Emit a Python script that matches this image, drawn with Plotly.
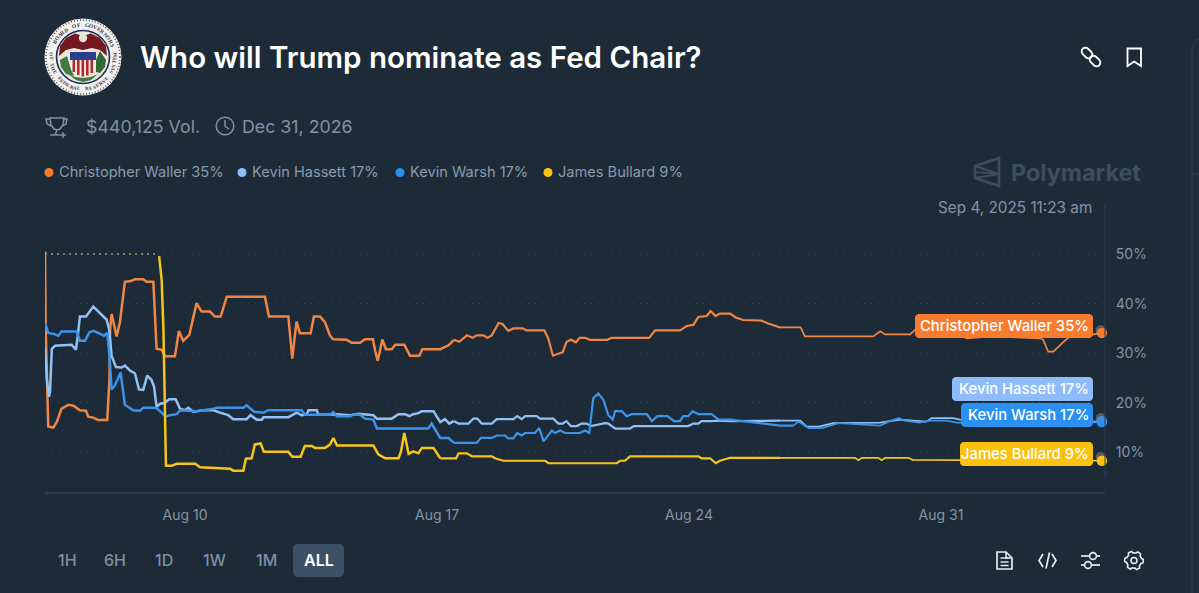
import math
import pandas as pd
import plotly.graph_objects as go

# day = day of August 2025 with fraction (32 = Sep 1), pct = chance in %
waller_day = [6.11, 6.13, 6.20, 6.34, 6.44, 6.57, 6.76, 6.90, 7.08, 7.25, 7.31, 7.45, 7.59, 7.84, 7.90, 7.92, 7.96, 8.03, 8.10, 8.19,
              8.33, 8.47, 8.61, 8.84, 8.93, 9.12, 9.21, 9.35, 9.44, 9.72, 9.83, 9.95, 10.12, 10.32, 10.46, 10.69, 10.83, 10.99, 11.16, 12.22,
              12.33, 12.87, 12.92, 12.98, 13.04, 13.10, 13.19, 13.49, 13.58, 13.75, 13.89, 14.03, 14.12, 14.49, 14.63, 14.86, 15.00, 15.22, 15.28, 15.35,
              15.42, 15.48, 15.58, 15.74, 15.84, 16.09, 16.25, 16.51, 16.59, 17.09, 17.32, 17.47, 17.62, 17.83, 17.99, 18.10, 18.29, 18.40, 18.52, 18.71,
              18.82, 18.98, 19.12, 19.38, 19.49, 19.98, 20.09, 20.22, 20.42, 20.49, 20.60, 20.72, 20.86, 20.96, 21.11, 21.25, 21.73, 21.85, 22.89, 23.06,
              23.75, 23.94, 24.12, 24.26, 24.49, 24.60, 24.74, 24.86, 25.14, 25.30, 25.50, 26.00, 26.20, 26.53, 27.10, 27.22, 29.12, 29.31, 29.45, 30.14,
              30.28, 30.60, 31.00, 31.50, 31.72, 32.22, 32.69, 33.75, 33.84, 33.98, 34.12, 34.45, 34.59, 34.91, 35.47]
waller_pct = [50.5, 34.9, 15.2, 15.0, 16.2, 18.8, 19.6, 19.4, 18.5, 18.4, 17.2, 17.0, 16.5, 16.5, 24.8, 34.9, 37.9, 35.6, 33.4, 36.2,
              44.4, 44.5, 44.9, 44.9, 44.4, 44.4, 30.9, 30.7, 29.4, 29.4, 34.5, 32.5, 33.7, 40.1, 38.4, 38.4, 37.4, 37.4, 41.4, 41.4,
              37.4, 37.4, 33.5, 28.9, 32.9, 36.4, 34.0, 34.0, 37.4, 37.4, 36.2, 33.5, 32.8, 32.7, 32.1, 32.1, 32.8, 32.8, 30.6, 28.5,
              30.6, 32.8, 30.8, 30.8, 31.7, 31.7, 29.5, 29.5, 30.8, 30.8, 31.6, 32.7, 32.3, 33.6, 33.1, 33.6, 33.6, 33.1, 33.6, 36.1,
              35.9, 34.5, 35.0, 35.0, 34.6, 34.6, 33.0, 29.5, 30.0, 30.2, 32.3, 32.7, 32.2, 33.1, 33.1, 32.7, 32.7, 33.1, 33.1, 34.6,
              34.6, 35.5, 35.7, 37.3, 37.5, 38.5, 37.5, 38.0, 38.0, 37.2, 36.7, 36.6, 36.0, 35.2, 35.2, 33.4, 33.4, 34.4, 33.8, 33.8,
              34.7, 34.7, 34.4, 33.6, 33.0, 33.3, 33.3, 33.0, 32.7, 30.3, 30.3, 32.6, 33.4, 33.4, 34.1]

hassett_day = [6.11, 6.16, 6.22, 6.25, 6.30, 6.39, 6.85, 6.97, 7.02, 7.08, 7.25, 7.45, 7.82, 7.89, 7.96, 8.08, 8.24, 8.33, 8.47, 8.61,
               8.72, 8.84, 8.95, 9.07, 9.14, 9.21, 9.31, 9.44, 9.56, 9.74, 9.86, 10.00, 10.09, 10.23, 10.51, 10.79, 10.97, 11.20, 11.34, 11.71,
               11.82, 11.99, 12.13, 12.18, 12.87, 13.10, 13.24, 13.38, 13.43, 13.66, 13.70, 14.03, 14.20, 14.59, 14.82, 15.23, 15.33, 15.74, 15.93, 16.11,
               16.23, 16.34, 16.48, 16.58, 16.90, 17.09, 17.22, 17.34, 17.46, 17.60, 17.87, 18.01, 18.12, 18.24, 18.52, 18.66, 19.12, 19.23, 19.35, 19.45,
               19.77, 19.86, 20.23, 20.37, 20.49, 20.59, 20.72, 20.88, 21.02, 21.16, 21.27, 21.67, 21.76, 21.95, 22.36, 22.47, 23.98, 24.12, 24.26, 24.35,
               24.63, 24.82, 25.14, 26.53, 27.09, 27.27, 27.60, 28.01, 29.31, 29.86, 30.60, 30.74, 31.34, 31.53, 32.50, 33.50, 34.50, 35.47]
hassett_pct = [31.2, 24.8, 21.2, 22.2, 30.9, 31.5, 31.7, 30.7, 33.5, 37.4, 37.4, 39.4, 36.8, 34.9, 29.5, 27.2, 27.1, 27.5, 26.5, 25.9,
               22.7, 22.6, 25.5, 24.6, 23.2, 19.2, 19.8, 20.0, 20.7, 20.7, 18.8, 18.5, 19.0, 18.2, 18.5, 18.5, 18.0, 17.5, 16.7, 16.7,
               17.5, 16.6, 16.6, 17.1, 17.1, 18.0, 17.5, 17.6, 18.5, 18.5, 17.6, 17.6, 17.7, 17.5, 17.8, 17.5, 16.8, 16.8, 17.7, 17.7,
               17.3, 17.7, 17.9, 18.3, 18.3, 16.1, 16.7, 15.8, 16.3, 15.8, 15.8, 16.8, 16.8, 15.8, 15.8, 16.7, 16.7, 17.3, 16.7, 17.3,
               17.3, 16.8, 16.8, 15.8, 15.8, 16.3, 15.3, 15.3, 15.8, 15.8, 15.3, 15.9, 15.8, 14.8, 14.8, 15.3, 15.3, 15.8, 15.8, 16.3,
               16.3, 16.4, 16.3, 16.4, 16.4, 15.2, 15.2, 15.9, 16.0, 16.6, 16.2, 16.9, 16.9, 16.6, 16.4, 16.2, 16.2, 16.2]

warsh_day = [6.11, 6.20, 6.36, 6.48, 6.57, 6.99, 7.08, 7.22, 7.34, 7.45, 7.59, 7.75, 7.84, 7.90, 7.96, 8.05, 8.21, 8.27, 8.33, 8.56,
             8.75, 8.84, 9.17, 9.26, 9.47, 9.58, 9.77, 9.86, 10.32, 10.79, 10.88, 11.62, 11.71, 11.92, 12.18, 12.31, 13.24, 13.33, 14.03, 14.12,
             14.22, 14.59, 14.68, 14.86, 15.00, 15.23, 15.33, 16.76, 16.85, 17.09, 17.32, 17.47, 18.10, 18.22, 18.52, 18.66, 18.89, 18.98, 19.12, 19.23,
             19.35, 19.45, 19.72, 19.84, 19.96, 20.19, 20.28, 20.42, 20.56, 20.97, 21.11, 21.23, 21.34, 21.48, 21.62, 21.76, 21.88, 21.95, 22.13, 22.27,
             22.41, 22.83, 22.97, 23.12, 23.40, 23.58, 23.75, 23.84, 23.98, 24.10, 24.26, 24.63, 24.82, 25.14, 26.53, 26.90, 27.04, 27.32, 27.70, 28.15,
             28.75, 29.31, 29.54, 29.82, 30.00, 30.40, 30.70, 31.16, 31.44, 33.00, 34.40, 34.59, 34.80, 35.47]
warsh_pct = [36.1, 34.1, 33.9, 33.5, 34.4, 34.4, 32.5, 32.5, 34.2, 34.5, 34.1, 33.5, 34.1, 29.5, 22.7, 23.5, 26.1, 22.2, 19.6, 18.5,
             18.4, 19.0, 19.0, 18.6, 17.2, 17.5, 17.7, 18.5, 18.3, 18.8, 19.0, 19.0, 19.5, 18.2, 18.0, 18.5, 18.5, 17.6, 17.6, 18.1,
             17.3, 17.3, 17.7, 17.6, 16.8, 16.6, 14.8, 14.8, 15.8, 12.9, 12.9, 11.9, 11.9, 12.9, 12.9, 13.4, 13.4, 12.8, 12.8, 13.9,
             13.4, 13.9, 13.9, 14.9, 12.2, 14.4, 13.9, 14.4, 13.9, 13.9, 14.4, 13.9, 20.9, 21.9, 20.6, 17.5, 16.6, 18.3, 18.3, 17.3,
             17.7, 17.7, 16.3, 17.3, 17.3, 16.3, 16.3, 17.3, 17.3, 18.3, 17.7, 17.7, 16.6, 16.6, 15.4, 15.4, 16.2, 14.9, 14.9, 15.9,
             15.6, 15.4, 16.2, 16.9, 16.4, 16.0, 16.4, 16.4, 16.0, 16.0, 16.0, 15.2, 16.0, 16.1]

bullard_day = [9.28, 9.35, 9.40, 9.44, 9.47, 9.63, 9.77, 10.28, 10.42, 11.25, 11.34, 11.62, 11.69, 11.85, 11.94, 12.10, 12.19, 12.87, 12.98, 13.21,
               13.33, 13.52, 13.61, 13.89, 14.03, 14.12, 14.22, 15.23, 15.37, 15.56, 15.93, 16.00, 16.09, 16.14, 16.21, 16.34, 16.48, 16.58, 16.90, 17.09,
               17.53, 17.60, 17.83, 17.97, 18.52, 18.61, 18.84, 20.00, 20.10, 21.99, 22.09, 22.22, 22.36, 24.26, 24.35, 24.59, 24.74, 24.86, 25.14, 26.53,
               28.61, 28.71, 28.80, 29.26, 29.35, 29.45, 30.09, 30.21, 35.47]
bullard_pct = [49.6, 44.9, 34.9, 14.8, 7.3, 7.3, 7.7, 7.7, 7.0, 6.7, 6.3, 6.3, 8.7, 8.8, 11.6, 11.8, 10.1, 10.1, 9.1, 9.1,
               11.3, 11.3, 10.9, 10.9, 11.6, 12.9, 11.4, 11.4, 9.6, 8.8, 8.8, 10.2, 13.9, 12.2, 9.7, 10.2, 9.8, 10.9, 10.9, 8.8,
               8.8, 9.8, 9.8, 9.2, 9.2, 8.8, 8.3, 8.3, 7.8, 7.8, 8.3, 8.3, 9.2, 9.2, 8.8, 8.8, 7.8, 8.3, 8.9, 8.9,
               8.9, 8.4, 8.9, 8.9, 8.4, 8.9, 8.9, 8.5, 8.3]

# flat dotted start of the Bullard series
flat_day = [6.11, 9.28]
flat_pct = [50.0, 50.0]

names = ["Christopher Waller", "Kevin Hassett", "Kevin Warsh", "James Bullard"]
latest = [35, 17, 17, 9]
line_colors = ["#f08544", "#93c1f5", "#3a94ea", "#f5c518"]
label_colors = ["#f97c2e", "#8ebcfb", "#2b90f0", "#fcc10d"]

x_ticks = [10, 17, 24, 31]
x_tick_labels = ["Aug 10", "Aug 17", "Aug 24", "Aug 31"]
y_ticks = [10, 20, 30, 40, 50]
y_tick_labels = ["10%", "20%", "30%", "40%", "50%"]

BG = "#1d2b39"
W, H = 1199, 593


def to_time(day):
    return pd.Timestamp("2025-08-01") + pd.to_timedelta(day - 1, unit="D")


def fx(x):
    return x / W


def fy(y):
    return 1 - y / H


def poly(points, closed=False, fill=None, line=None, width=1.5, dash=None):
    path = "M " + " L ".join(f"{fx(x):.5f},{fy(y):.5f}" for x, y in points)
    if closed:
        path += " Z"
    return dict(type="path", xref="paper", yref="paper", path=path,
                fillcolor=fill or "rgba(0,0,0,0)",
                line=dict(color=line or "rgba(0,0,0,0)", width=width if line else 0, dash=dash or "solid"))


def circle(cx, cy, r, fill=None, line=None, width=1.5, dash=None, layer="above"):
    return dict(type="circle", xref="paper", yref="paper", layer=layer,
                x0=fx(cx - r), x1=fx(cx + r), y0=fy(cy + r), y1=fy(cy - r),
                fillcolor=fill or "rgba(0,0,0,0)",
                line=dict(color=line or "rgba(0,0,0,0)", width=width if line else 0, dash=dash or "solid"))


def arc(cx, cy, r, a0, a1, n=8):
    return [(cx + r * math.cos(math.radians(a0 + (a1 - a0) * i / n)),
             cy + r * math.sin(math.radians(a0 + (a1 - a0) * i / n))) for i in range(n + 1)]


def round_rect(x0, y0, x1, y1, r, **kw):
    pts = arc(x0 + r, y0 + r, r, 180, 270) + arc(x1 - r, y0 + r, r, 270, 360) \
        + arc(x1 - r, y1 - r, r, 0, 90) + arc(x0 + r, y1 - r, r, 90, 180)
    return poly(pts, closed=True, **kw)


def stadium(cx, cy, length, thick, angle, **kw):
    r = thick / 2
    d = length / 2 - r
    ca, sa = math.cos(math.radians(angle)), math.sin(math.radians(angle))
    pts = arc(cx + d * ca, cy + d * sa, r, angle - 90, angle + 90) \
        + arc(cx - d * ca, cy - d * sa, r, angle + 90, angle + 270)
    return poly(pts, closed=True, **kw)


def text(x, y, s, size=14, color="#8494a5", anchor="left", weight=400, family="Inter", angle=0):
    return dict(xref="paper", yref="paper", x=fx(x), y=fy(y), text=s, showarrow=False,
                xanchor=anchor, yanchor="middle", textangle=angle,
                font=dict(size=size, color=color, family=family, weight=weight))


fig = go.Figure()

series = [(waller_day, waller_pct), (hassett_day, hassett_pct), (warsh_day, warsh_pct), (bullard_day, bullard_pct)]

fig.add_trace(go.Scatter(x=[to_time(d) for d in flat_day], y=flat_pct, mode="lines",
                         line=dict(color="#a3926b", width=1.6, dash="2px,4px"), showlegend=False))

# the line gets thinner towards the right in the picture
parts = [(0, 17.5, 2.5), (17.5, 27, 2.2), (27, 40, 1.7)]

for i, (days, pcts) in enumerate(series):
    for lo, hi, width in parts:
        keep = [k for k, d in enumerate(days) if lo <= d <= hi]
        if keep[0] > 0:
            keep = [keep[0] - 1] + keep
        fig.add_trace(go.Scatter(x=[to_time(days[k]) for k in keep], y=[pcts[k] for k in keep], mode="lines", name=names[i],
                                 line=dict(color=line_colors[i], width=width), showlegend=False))
    fig.add_trace(go.Scatter(x=[to_time(days[-1])], y=[pcts[-1]], mode="markers", showlegend=False,
                             marker=dict(size=10.5, color=label_colors[i]), cliponaxis=False))

shapes = []
notes = []

# grey halo sits a little up and left of each end dot
for hy in (330, 418, 457):
    shapes.append(circle(1100.7, hy, 5, fill="rgba(150,150,150,0.45)", layer="below"))

# right axis rule, panel edge
shapes.append(poly([(1105, 203), (1105, 478)], line="#2d3d4c", width=1))
shapes.append(poly(arc(1204, 50, 12, 180, 270), line="#2f4050", width=1))
shapes.append(poly([(1192, 50), (1192, 593)], line="#2f4050", width=1))
shapes.append(poly([(1192, 174), (1199, 174)], line="#2f4050", width=1))

# end labels
label_boxes = [(915, 314, 338), (952, 377, 401), (961, 403, 427), (960, 442, 466)]
for i, (x0, y0, y1) in enumerate(label_boxes):
    shapes.append(round_rect(x0, y0, 1093, y1, 4, fill=label_colors[i]))
    notes.append(text(1091, (y0 + y1) / 2, f"{names[i]} {latest[i]}%", size=14.8, color="#ffffff", anchor="right", weight=500))

# legend row
legend_x = [49, 242, 400, 548]
for i, x in enumerate(legend_x):
    shapes.append(circle(x, 172.5, 4.5, fill=label_colors[i]))
    notes.append(text(x + 8, 172, f"{names[i]} {latest[i]}%", size=14.6, color="#8a9aab"))

# header
notes.append(text(138, 57, "Who will Trump nominate as Fed Chair?", size=29.5, color="#ffffff", weight=600))
notes.append(text(84, 126, "$440,125 Vol.", size=17.8, color="#8091a3"))
notes.append(text(240, 126, "Dec 31, 2026", size=17.8, color="#8091a3"))
notes.append(text(1094, 207, "Sep 4, 2025 11:23 am", size=15.3, color="#8494a5", anchor="right"))
notes.append(text(1009, 172, "Polymarket", size=23.3, color="#3c4d5d", weight=700))

# polymarket mark
mark = "#3c4d5d"
shapes.append(poly([(975, 166), (999, 158), (999, 186), (975, 178)], closed=True, line=mark, width=2.6))
shapes.append(poly([(975, 166), (999, 174), (975, 178)], line=mark, width=2.2))
shapes.append(poly([(999, 174), (975, 172)], line=mark, width=2))

# trophy and clock
ic = "#8091a3"
shapes.append(poly([(50, 118), (64, 118), (63, 125), (60, 129), (57, 130), (54, 129), (51, 125)], closed=True, line=ic))
shapes.append(poly([(50, 119), (46, 119), (47, 124), (51, 126)], line=ic))
shapes.append(poly([(64, 119), (67, 119), (66, 124), (62, 126)], line=ic))
shapes.append(poly([(57, 130), (55, 135), (50, 135), (60, 135)], line=ic))
shapes.append(poly([(63, 132), (63, 138)], line=ic))
shapes.append(poly([(60, 135), (66, 135)], line=ic))
shapes.append(circle(225, 126, 8.8, line=ic))
shapes.append(poly([(225, 120), (225, 126), (229, 129)], line=ic))

# top right icons
shapes.append(stadium(1087, 53, 12, 7.5, 45, line="#ffffff", width=1.8))
shapes.append(stadium(1095, 61, 12, 7.5, 45, line="#ffffff", width=1.8))
shapes.append(poly([(1127.5, 48.5), (1141, 48.5), (1141, 66), (1134.2, 61.5), (1127.5, 66)], closed=True, line="#ffffff", width=1.8))

# range buttons
shapes.append(round_rect(293, 544, 344, 577, 5, fill="#3d5064"))
for label, x in zip(["1H", "6H", "1D", "1W", "1M"], [67, 115, 164, 214, 266]):
    notes.append(text(x, 560, label, size=16, color="#7e90a2", anchor="center", weight=500))
notes.append(text(318.5, 560, "ALL", size=16, color="#ffffff", anchor="center", weight=600))

# bottom right icons
wh = "#e8edf2"
shapes.append(poly([(997, 552), (1006, 552), (1012, 558), (1012, 569), (997, 569)], closed=True, line=wh, width=1.7))
shapes.append(poly([(1006, 552), (1006, 558), (1012, 558)], line=wh, width=1.5))
for y in (558, 562, 565.5):
    shapes.append(poly([(1000.5, y), (1008.5, y)], line=wh, width=1.4))
shapes.append(poly([(1043, 554), (1039, 560.5), (1043, 567)], line=wh, width=1.7))
shapes.append(poly([(1052, 554), (1056, 560.5), (1052, 567)], line=wh, width=1.7))
shapes.append(poly([(1049.5, 552.5), (1046, 568.5)], line=wh, width=1.7))
shapes.append(poly([(1081, 556), (1089, 556)], line=wh, width=1.7))
shapes.append(poly([(1097, 556), (1100, 556)], line=wh, width=1.7))
shapes.append(poly([(1081, 565), (1084, 565)], line=wh, width=1.7))
shapes.append(poly([(1092, 565), (1100, 565)], line=wh, width=1.7))
shapes.append(circle(1093, 556, 3.4, line=wh, width=1.6))
shapes.append(circle(1088, 565, 3.4, line=wh, width=1.6))
gear = []
for k in range(48):
    a = k / 48 * 360
    r = 9.3 if (k % 8) in (0, 1, 2, 7) else 7.6
    gear.append((1134 + r * math.cos(math.radians(a)), 560.5 + r * math.sin(math.radians(a))))
shapes.append(poly(gear, closed=True, line=wh, width=1.6))
shapes.append(circle(1134, 560.5, 3, line=wh, width=1.6))

# seal
cx, cy = 83, 57
shapes.append(circle(cx, cy, 38.5, fill="#f2f1ee"))
shapes.append(circle(cx, cy, 37, line="#55555a", width=1.6, dash="1px,2px"))
shapes.append(circle(cx, cy, 26.5, fill="#e9e7dc", line="#1e2a5a", width=1.6))
shapes.append(poly([(59, 56), (60, 46), (66, 38), (75, 33.5), (83, 36), (91, 33.5), (100, 38), (106, 46), (107, 56),
                    (100, 50), (92, 48), (83, 50), (74, 48), (66, 50)], closed=True, fill="#741821"))
shapes.append(circle(83, 38, 4.2, fill="#e6e2d5"))
shapes.append(poly([(60, 60), (67, 56), (70, 66), (74, 76), (66, 74), (61, 67)], closed=True, fill="#3f7a3c"))
shapes.append(poly([(106, 60), (100, 51), (96, 60), (96, 72), (100, 73), (105, 67)], closed=True, fill="#2f6a34"))
shapes.append(poly([(68, 74), (76, 80), (83, 82), (91, 80), (98, 74), (91, 77), (83, 78), (75, 77)], closed=True, fill="#3f7a3c"))
shapes.append(poly([(70, 52), (96, 52), (96, 60), (70, 60)], closed=True, fill="#2a3f8a"))
shapes.append(poly([(70, 60), (96, 60), (96, 66), (94, 72), (89, 75), (83, 77), (77, 75), (72, 72), (70, 66)], closed=True, fill="#f4efe6"))
for sx, top, bot in zip([72.5, 77, 81.5, 86, 90.5], [60, 60, 60, 60, 60], [72, 75, 76.5, 75.5, 73]):
    shapes.append(dict(type="rect", xref="paper", yref="paper", x0=fx(sx), x1=fx(sx + 2.6), y0=fy(bot), y1=fy(top),
                       fillcolor="#b02a30", line=dict(width=0)))

top_text = "BOARD OF GOVERNORS"
bottom_text = "OF THE FEDERAL RESERVE SYSTEM"
for k, ch in enumerate(top_text):
    a = -62 + 131 * k / (len(top_text) - 1)
    notes.append(text(cx + 32 * math.sin(math.radians(a)), cy - 32 * math.cos(math.radians(a)), ch, size=5.5,
                      color="#3a3a40", anchor="center", weight=700, family="Liberation Serif", angle=a))
for k, ch in enumerate(bottom_text):
    a = -95 + 190 * k / (len(bottom_text) - 1)
    notes.append(text(cx + 32 * math.sin(math.radians(a)), cy + 32 * math.cos(math.radians(a)), ch, size=5,
                      color="#3a3a40", anchor="center", weight=700, family="Liberation Serif", angle=-a))

fig.update_layout(
    width=W, height=H,
    margin=dict(l=0, r=0, t=0, b=0),
    paper_bgcolor=BG, plot_bgcolor=BG,
    showlegend=False,
    font=dict(family="Inter", color="#8494a5"),
    xaxis=dict(
        domain=[fx(45), fx(1105)],
        range=[to_time(6.11), to_time(35.556)],
        type="date",
        tickvals=[to_time(d) for d in x_ticks],
        ticktext=x_tick_labels,
        tickfont=dict(size=14, color="#8494a5"),
        showgrid=False, zeroline=False,
        showline=True, linecolor="#2d3d4c", linewidth=1.5,
        ticks="outside", ticklen=9, tickcolor="rgba(0,0,0,0)",
    ),
    yaxis=dict(
        domain=[fy(492), fy(203)],
        range=[2.0, 60.3],
        side="right",
        tickvals=y_ticks,
        ticktext=y_tick_labels,
        tickfont=dict(size=14, color="#8494a5"),
        showgrid=True, gridcolor="#354759", griddash="1px,6px", gridwidth=1,
        zeroline=False, showline=False,
        ticks="outside", ticklen=7, tickcolor="rgba(0,0,0,0)",
    ),
    shapes=shapes,
    annotations=notes,
)

fig.write_html("out.html", config=dict(displayModeBar=False),
               post_script="document.body.style.margin='0';document.body.style.background='#1d2b39';")
